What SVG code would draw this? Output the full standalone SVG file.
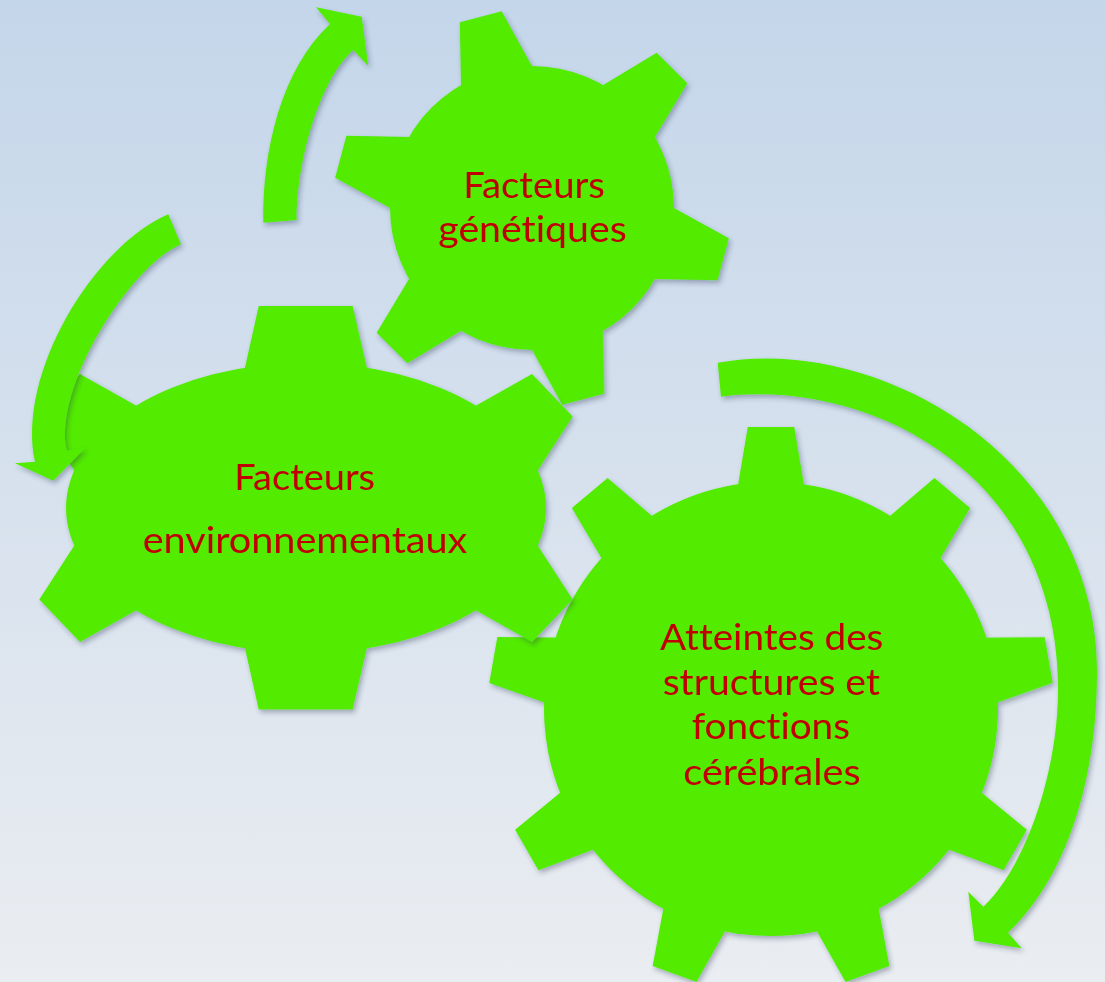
<svg xmlns="http://www.w3.org/2000/svg" xmlns:xlink="http://www.w3.org/1999/xlink" width="1105" height="982" viewBox="0 0 1105 982">
<defs>
<linearGradient id="bg" x1="0" y1="0" x2="0" y2="1">
<stop offset="0" stop-color="#c4d6ea"/>
<stop offset="1" stop-color="#eaedf1"/>
</linearGradient>
<filter id="sh" x="-10%" y="-10%" width="120%" height="120%">
<feDropShadow dx="2" dy="3" stdDeviation="2.5" flood-color="#2a3550" flood-opacity="0.35"/>
</filter>
<polygon id="toothS" points="120,-41 198,-21.7 198,21.7 120,41"/>
<polygon id="toothL" points="200,-37 282,-23.3 282,23.3 200,37"/>
</defs>
<style>
.gear{fill:#52ec00;filter:url(#sh)}
.arrow{fill:#52ec00;filter:url(#sh)}
.lbl{font-family:Lato,"Open Sans","Liberation Sans",sans-serif;font-size:36px;fill:#c00000;text-anchor:middle;font-variant-ligatures:none;font-feature-settings:"liga" 0,"clig" 0,"dlig" 0}
</style>
<rect x="0" y="0" width="1105" height="982" fill="url(#bg)"/>

<g id="gear-genetiques" class="gear">
<circle cx="532" cy="208" r="142"/>
<use xlink:href="#toothS" href="#toothS" transform="translate(532,208) rotate(-105)"/>
<use xlink:href="#toothS" href="#toothS" transform="translate(532,208) rotate(-45)"/>
<use xlink:href="#toothS" href="#toothS" transform="translate(532,208) rotate(15)"/>
<use xlink:href="#toothS" href="#toothS" transform="translate(532,208) rotate(75)"/>
<use xlink:href="#toothS" href="#toothS" transform="translate(532,208) rotate(135)"/>
<use xlink:href="#toothS" href="#toothS" transform="translate(532,208) rotate(195)"/>
</g>

<g id="gear-atteintes" class="gear">
<circle cx="771" cy="709" r="227"/>
<use xlink:href="#toothL" href="#toothL" transform="translate(771,709) rotate(-90)"/>
<use xlink:href="#toothL" href="#toothL" transform="translate(771,709) rotate(-50)"/>
<use xlink:href="#toothL" href="#toothL" transform="translate(771,709) rotate(-10)"/>
<use xlink:href="#toothL" href="#toothL" transform="translate(771,709) rotate(30)"/>
<use xlink:href="#toothL" href="#toothL" transform="translate(771,709) rotate(70)"/>
<use xlink:href="#toothL" href="#toothL" transform="translate(771,709) rotate(110)"/>
<use xlink:href="#toothL" href="#toothL" transform="translate(771,709) rotate(150)"/>
<use xlink:href="#toothL" href="#toothL" transform="translate(771,709) rotate(190)"/>
<use xlink:href="#toothL" href="#toothL" transform="translate(771,709) rotate(230)"/>
</g>

<g id="gear-environnementaux" class="gear">
<ellipse cx="306" cy="508" rx="240" ry="145"/>
<polygon points="240,390 258.7,306 352.7,306 372,390"/>
<polygon points="240,626 258.7,709.5 352.7,709.5 372,626"/>
<polygon points="80,374 39.3,416.5 93.7,500.5 162.5,420.5"/>
<polygon points="80,642 39.3,599.5 93.7,515.5 162.5,595.5"/>
<polygon points="532,374 572.7,416.5 518.3,500.5 449.5,420.5"/>
<polygon points="532,642 572.7,599.5 518.3,515.5 449.5,595.5"/>
</g>

<g id="connectors">
<path id="arrow-up" class="arrow" d="M263.3,222.7 C262,150 282,68 330,24 L316,7.3 L361.7,16.7 L368.3,66 L353.3,50 C318,81 296.5,165 296.7,220 Z"/>
<path id="arrow-left" class="arrow" d="M168.3,214.3 C94.7,245.5 16.1,373.5 35,461.7 L15,463.3 L53.3,480.7 L85,448 L66.7,450.7 C53,387 130.4,265.8 181,244.3 Z"/>
<path id="arrow-right" class="arrow" d="M717.7,362.7 C880,333 1097,460 1097,672 C1097,782 1066,877.8 1008,932.7 L1021.7,948.3 L974.3,940.7 L968.3,891.7 L983.3,906.7 C1026.9,865.5 1058,770 1058,690 C1058,470 866,378 721,396.7 Z"/>
</g>

<g id="labels">
<text class="lbl" x="534" y="198.3" textLength="141.7" lengthAdjust="spacingAndGlyphs">Facteurs</text>
<text class="lbl" x="532.5" y="241.7" textLength="188.4" lengthAdjust="spacingAndGlyphs">génétiques</text>
<text class="lbl" x="304.7" y="490" textLength="140.7" lengthAdjust="spacingAndGlyphs">Facteurs</text>
<text class="lbl" x="305" y="553.3" textLength="324.7" lengthAdjust="spacingAndGlyphs">environnementaux</text>
<text class="lbl" x="771.7" y="650" textLength="223.3" lengthAdjust="spacingAndGlyphs">Atteintes des</text>
<text class="lbl" x="771.3" y="695" textLength="217.3" lengthAdjust="spacingAndGlyphs">structures et</text>
<text class="lbl" x="770.8" y="739.3" textLength="158.3" lengthAdjust="spacingAndGlyphs">fonctions</text>
<text class="lbl" x="772" y="785" textLength="177.3" lengthAdjust="spacingAndGlyphs">cérébrales</text>
</g>
</svg>
